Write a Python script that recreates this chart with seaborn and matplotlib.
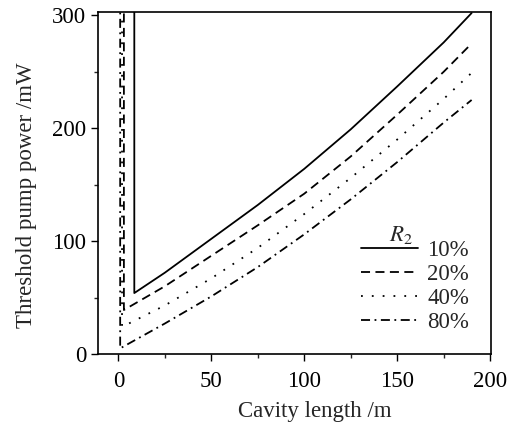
import matplotlib
matplotlib.use("Agg")
import matplotlib.pyplot as plt
import seaborn as sns
import pandas as pd
import numpy as np
from matplotlib.ticker import MultipleLocator

# Data
labels = ["10%", "20%", "40%", "80%"]
x_10 = [8.6, 8.6, 25, 50, 75, 100, 125, 150, 175, 190]
y_10 = [320, 54, 72, 102, 132, 164, 199, 237, 276, 302]
x_20 = [3.0, 3.0, 25, 50, 75, 100, 125, 150, 175, 190]
y_20 = [320, 39, 60, 87, 114, 142, 175, 212, 250, 275]
x_40 = [2.0, 2.0, 25, 50, 75, 100, 125, 150, 175, 190]
y_40 = [320, 24, 43, 67, 94, 124, 156, 190, 226, 249]
x_80 = [1.0, 1.0, 25, 50, 75, 100, 125, 150, 175, 190]
y_80 = [320, 5, 27, 51, 77, 106, 137, 170, 205, 225]

xs = [x_10, x_20, x_40, x_80]
ys = [y_10, y_20, y_40, y_80]

sns.set_style("ticks")
plt.rcParams['font.family'] = ['Liberation Serif', 'DejaVu Serif']
plt.rcParams['mathtext.fontset'] = 'stix'

fig = plt.figure(figsize=(5.17, 4.25), dpi=100)
ax = fig.add_axes([0.19, 0.167, 0.76, 0.805])

styles = [dict(linestyle='-'),
          dict(linestyle=(0, (5, 3))),
          dict(linestyle=(0, (1, 5))),
          dict(linestyle=(0, (5, 2.5, 1, 2.5)))]

for lab, x, y, st in zip(labels, xs, ys, styles):
    df = pd.DataFrame({"L": x, "P": y, "order": np.arange(len(x))})
    sns.lineplot(data=df, x="L", y="P", sort=False, estimator=None, ax=ax,
                 color='black', linewidth=1.3, label=lab, **st)

FS = 16.5
ax.set_xlim(-10.8, 200.5)
ax.set_ylim(0, 303)
ax.xaxis.set_major_locator(MultipleLocator(50))
ax.xaxis.set_minor_locator(MultipleLocator(25))
ax.yaxis.set_major_locator(MultipleLocator(100))
ax.yaxis.set_minor_locator(MultipleLocator(50))
ax.tick_params(which='major', direction='out', length=5, width=1, labelsize=FS, colors='black')
ax.tick_params(axis='x', which='major', pad=7)
ax.tick_params(which='minor', direction='out', length=3, width=1)
for s in ax.spines.values():
    s.set_visible(True)
    s.set_linewidth(1.2)
    s.set_color('black')

ax.set_xlabel("Cavity length /m", fontsize=FS)
ax.set_ylabel("Threshold pump power /mW", fontsize=FS)
ax.xaxis.set_label_coords(0.55, -0.137)
ax.yaxis.set_label_coords(-0.155, 0.465)

leg = ax.legend(title="     $R_2$", loc='lower right', bbox_to_anchor=(0.985, 0.015),
                frameon=False, fontsize=FS, title_fontsize=FS, handlelength=2.5,
                handletextpad=0.4, labelspacing=0.12, borderpad=0.2)
leg._legend_box.align = "left"
leg._legend_box.sep = -4

fig.savefig("out.png", dpi=100)
